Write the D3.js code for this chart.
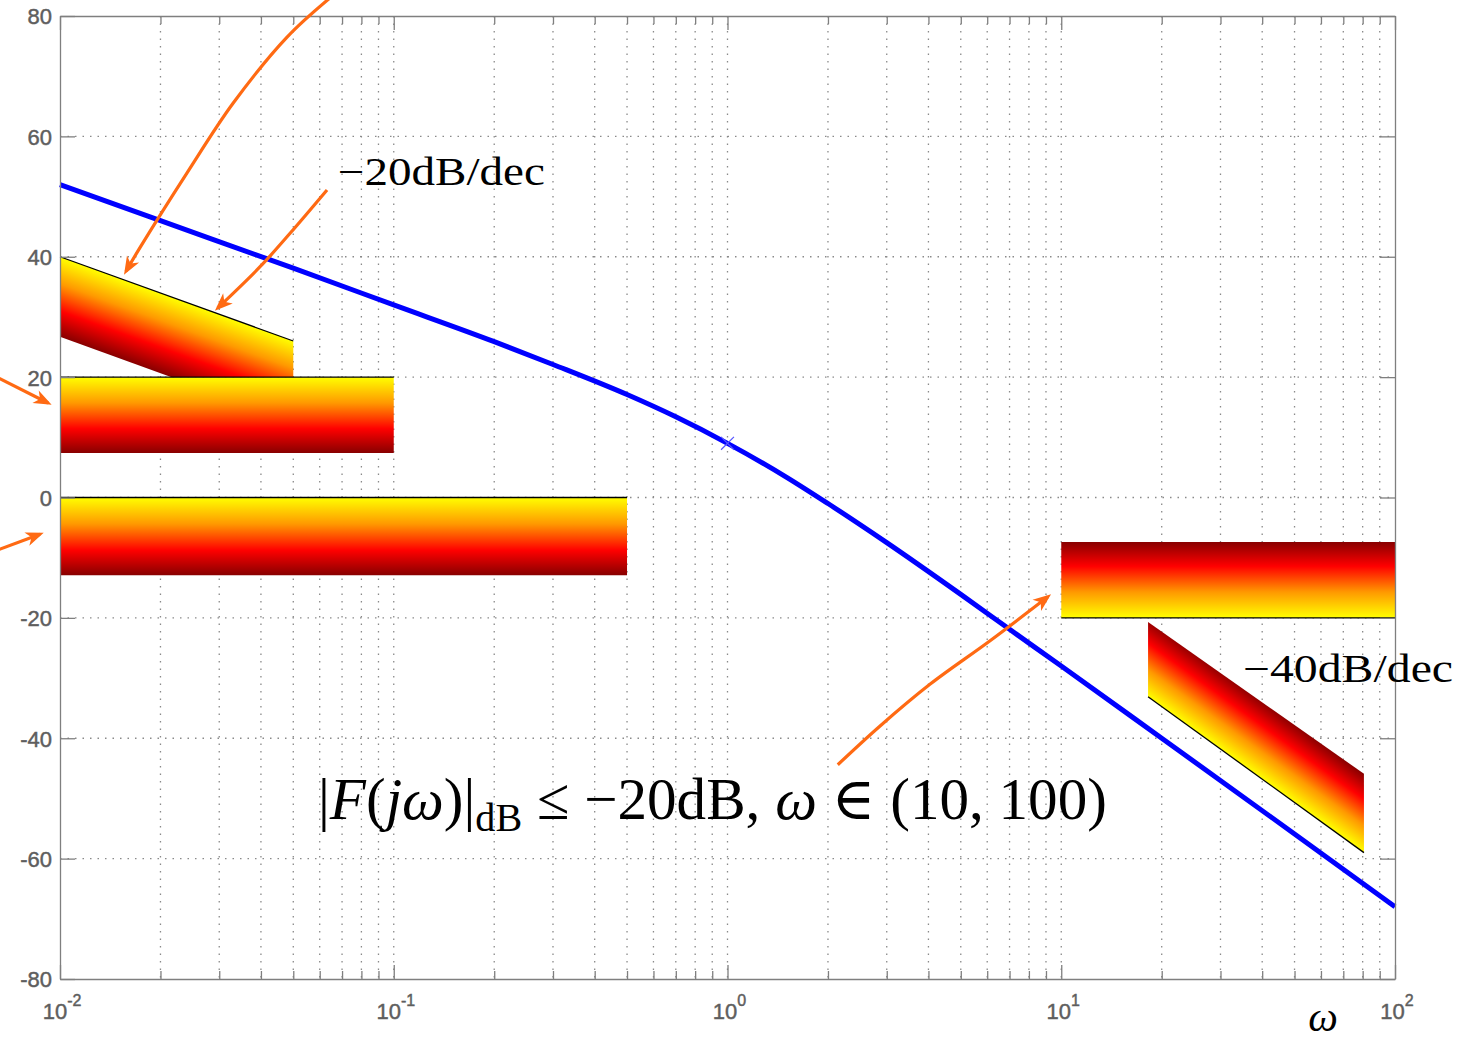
<!DOCTYPE html>
<html>
<head>
<meta charset="utf-8">
<script src="https://cdn.jsdelivr.net/npm/d3@7"></script>
<style>
    body { margin: 0; background: #ffffff; }
    .axis text { font-family: "Liberation Sans", Arial, sans-serif; fill: #5e5e5e; stroke: #5e5e5e; stroke-width: 0.45; }
    .axis path, .axis line { stroke: #7f7f7f; }
    .tex { font-family: "Liberation Serif", "DejaVu Serif", serif; fill: #000000; }
</style>
</head>
<body>
<div class="content-padded"></div>
<script>
// magnitude |F(jw)| in dB
let omega = [0.01, 0.02, 0.05, 0.1, 0.2, 0.3, 0.5, 0.7, 1, 1.5, 2, 3, 5, 7, 10, 20, 50, 100];
let magDb = [52.0, 46.0, 38.1, 32.0, 25.9, 22.1, 17.1, 13.4, 9.0, 3.4, -1.0, -7.5, -16.1, -21.9, -28.0, -40.0, -55.9, -68.0];

// axis ticks
let xTicks = [0.01, 0.1, 1, 10, 100];
let xTickExp = ["-2", "-1", "0", "1", "2"];
let yTicks = [-80, -60, -40, -20, 0, 20, 40, 60, 80];

// shaded constraint regions [omega, dB]; first two points = the black edge (yellow side)
let bandLow20 = [[0.01, 40], [0.05, 26.0], [0.05, 20], [0.0216, 20], [0.01, 26.7]];
let rectLow1 = [[0.01, 20], [0.1, 20], [0.1, 7.4], [0.01, 7.4]];
let rectLow2 = [[0.01, 0], [0.5, 0], [0.5, -12.9], [0.01, -12.9]];
let rectHigh = [[10, -20], [100, -20], [100, -7.4], [10, -7.4]];
let bandHigh40 = [[18.2, -33.1], [80.7, -59.0], [80.7, -45.9], [18.2, -20.7]];

// annotation arrows [omega, dB], tail -> tip
let arrowA = [[0.0644, 83.0], [0.0479, 76.5], [0.0330, 65.5], [0.0240, 53.9], [0.0174, 41.6], [0.01577, 37.6]];
let arrowB = [[0.0631, 51.1], [0.0489, 43.9], [0.0397, 38.3], [0.0297, 31.5]];
let arrowC = [[0.00652, 19.9], [0.00921, 15.7]];
let arrowD = [[0.00652, -8.7], [0.00871, -6.1]];
let arrowE = [[2.14, -44.4], [2.86, -38.0], [4.05, -31.0], [6.12, -23.8], [9.12, -16.5]];

// label anchors [omega, dB]
let label20At = [0.068, 51.9];
let label40At = [35.05, -30.65];
let formulaAt = [0.0593, -53.4];


function BodeView() {
    this.width = 1462;
    this.height = 1041;
    this.left = 60;
    this.right = 1395;
    this.top = 16;
    this.bottom = 979;

    this.setup();
    this.drawGrid();
    this.drawRegions();
    this.drawCurve();
    this.drawAxes();
    this.drawArrows();
    this.drawLabels();
}

BodeView.prototype.setup = function () {
    this.svg = d3.select(".content-padded")
        .append("svg")
        .attr("width", this.width)
        .attr("height", this.height);

    this.x = d3.scaleLog()
        .domain([0.01, 100])
        .range([this.left, this.right]);

    this.y = d3.scaleLinear()
        .domain([-80, 80])
        .range([this.bottom, this.top]);

    let defs = this.svg.append("defs");
    this.defs = defs;

    defs.append("marker")
        .attr("id", "head")
        .attr("markerUnits", "userSpaceOnUse")
        .attr("viewBox", "-15 -8 21 16")
        .attr("markerWidth", 21)
        .attr("markerHeight", 16)
        .attr("refX", 0)
        .attr("refY", 0)
        .attr("orient", "auto")
        .append("path")
        .attr("d", "M4,0 L-14,-7 L-9,0 L-14,7 Z")
        .attr("fill", "#ff6a13");
}

BodeView.prototype.drawGrid = function () {
    let x = this.x, y = this.y;
    let grid = this.svg.append("g").attr("class", "grid");

    grid.selectAll(".gx")
        .data(x.ticks().filter(d => d > 0.01 && d < 100))
        .enter().append("line")
        .attr("x1", d => x(d)).attr("x2", d => x(d))
        .attr("y1", this.top).attr("y2", this.bottom)
        .attr("stroke", "#8a8a8a")
        .attr("stroke-width", 1.3)
        .attr("stroke-dasharray", "1.5,6");

    grid.selectAll(".gy")
        .data(yTicks.filter(d => d > -80 && d < 80))
        .enter().append("line")
        .attr("x1", this.left).attr("x2", this.right)
        .attr("y1", d => y(d)).attr("y2", d => y(d))
        .attr("stroke", "#8a8a8a")
        .attr("stroke-width", 1.3)
        .attr("stroke-dasharray", "1.5,6");
}

BodeView.prototype.drawRegions = function () {
    let currObj = this;
    let x = this.x, y = this.y;
    let regions = [bandLow20, rectLow1, rectLow2, rectHigh, bandHigh40];
    let line = d3.line().x(d => x(d[0])).y(d => y(d[1]));

    regions.forEach(function (poly, i) {
        let pts = poly.map(d => [x(d[0]), y(d[1])]);
        let p0 = pts[0], p1 = pts[1];
        let len = Math.hypot(p1[0] - p0[0], p1[1] - p0[1]);
        let nx = -(p1[1] - p0[1]) / len;
        let ny = (p1[0] - p0[0]) / len;
        // farthest vertex from the edge sets the gradient length
        let far = 0;
        pts.forEach(function (p) {
            let s = (p[0] - p0[0]) * nx + (p[1] - p0[1]) * ny;
            if (Math.abs(s) > Math.abs(far)) far = s;
        });

        let grad = currObj.defs.append("linearGradient")
            .attr("id", "ramp" + i)
            .attr("gradientUnits", "userSpaceOnUse")
            .attr("x1", p0[0]).attr("y1", p0[1])
            .attr("x2", p0[0] + nx * far).attr("y2", p0[1] + ny * far);
        grad.append("stop").attr("offset", 0).attr("stop-color", "#ffff00");
        grad.append("stop").attr("offset", 0.34).attr("stop-color", "#ff9900");
        grad.append("stop").attr("offset", 0.68).attr("stop-color", "#ff0000");
        grad.append("stop").attr("offset", 1).attr("stop-color", "#880000");

        currObj.svg.append("path")
            .attr("d", line(poly) + "Z")
            .attr("fill", "url(#ramp" + i + ")");

        currObj.svg.append("path")
            .attr("d", line(poly.slice(0, 2)))
            .attr("fill", "none")
            .attr("stroke", "#000000")
            .attr("stroke-width", 1.3);
    });
}

BodeView.prototype.drawCurve = function () {
    let x = this.x, y = this.y;
    let pts = omega.map((w, i) => [w, magDb[i]]);

    let line = d3.line()
        .x(d => x(d[0]))
        .y(d => y(d[1]))
        .curve(d3.curveMonotoneX);

    this.svg.append("path")
        .datum(pts)
        .attr("d", line)
        .attr("fill", "none")
        .attr("stroke", "#0000ff")
        .attr("stroke-width", 5);

    // small cross marker at w = 1
    this.svg.append("path")
        .attr("d", d3.symbol(d3.symbolX, 110)())
        .attr("transform", "translate(" + x(1) + "," + y(magDb[omega.indexOf(1)]) + ")")
        .attr("fill", "none")
        .attr("stroke", "#5555ff")
        .attr("stroke-width", 1.2);
}

BodeView.prototype.drawAxes = function () {
    let x = this.x, y = this.y;
    let minor = x.ticks().filter(d => xTicks.indexOf(d) < 0);

    /* bottom, major + minor */
    let xAxis = d3.axisBottom(x)
        .tickValues(xTicks)
        .tickSize(-14)
        .tickSizeOuter(0)
        .tickFormat("");
    this.svg.append("g")
        .attr("class", "axis")
        .attr("transform", "translate(0," + this.bottom + ")")
        .call(xAxis);
    this.svg.append("g")
        .attr("class", "axis")
        .attr("transform", "translate(0," + this.bottom + ")")
        .call(d3.axisBottom(x).tickValues(minor).tickSize(-8).tickSizeOuter(0).tickFormat(""))
        .select(".domain").remove();

    /* top, ticks only */
    this.svg.append("g")
        .attr("class", "axis")
        .attr("transform", "translate(0," + this.top + ")")
        .call(d3.axisTop(x).tickValues(xTicks).tickSize(-14).tickSizeOuter(0).tickFormat(""));
    this.svg.append("g")
        .attr("class", "axis")
        .attr("transform", "translate(0," + this.top + ")")
        .call(d3.axisTop(x).tickValues(minor).tickSize(-8).tickSizeOuter(0).tickFormat(""))
        .select(".domain").remove();

    /* left, plain hyphen minus like the original */
    this.svg.append("g")
        .attr("class", "axis")
        .attr("transform", "translate(" + this.left + ",0)")
        .call(d3.axisLeft(y).tickValues(yTicks).tickSize(-15).tickSizeOuter(0).tickPadding(8)
            .tickFormat(d => String(d)))
        .selectAll("text")
        .attr("font-size", 22)
        .attr("dy", "0.36em");

    /* right */
    this.svg.append("g")
        .attr("class", "axis")
        .attr("transform", "translate(" + this.right + ",0)")
        .call(d3.axisRight(y).tickValues(yTicks).tickSize(-15).tickSizeOuter(0).tickFormat(""));

    this.svg.selectAll(".axis path, .axis line").attr("stroke-width", 1.3);

    // 10^k labels
    let lbl = this.svg.append("g").attr("class", "axis");
    xTicks.forEach(function (t, i) {
        let txt = lbl.append("text")
            .attr("x", x(t) + 2)
            .attr("y", 1019)
            .attr("text-anchor", "middle")
            .attr("font-size", 22);
        txt.append("tspan").text("10");
        txt.append("tspan")
            .attr("dy", -13)
            .attr("font-size", 16)
            .text(xTickExp[i]);
    });

    this.svg.append("text")
        .attr("class", "tex")
        .attr("x", this.right - 72)
        .attr("y", 1031)
        .attr("text-anchor", "middle")
        .attr("font-size", 42)
        .attr("font-style", "italic")
        .text("ω");
}

BodeView.prototype.drawArrows = function () {
    let x = this.x, y = this.y;
    let line = d3.line()
        .x(d => x(d[0]))
        .y(d => y(d[1]))
        .curve(d3.curveCatmullRom);

    this.svg.selectAll(".arrow")
        .data([arrowA, arrowB, arrowC, arrowD, arrowE])
        .enter().append("path")
        .attr("class", "arrow")
        .attr("d", line)
        .attr("fill", "none")
        .attr("stroke", "#ff6a13")
        .attr("stroke-width", 3.2)
        .attr("marker-end", "url(#head)");
}

BodeView.prototype.drawLabels = function () {
    let x = this.x, y = this.y;

    this.svg.append("text")
        .attr("class", "tex")
        .attr("x", x(label20At[0]))
        .attr("y", y(label20At[1]))
        .attr("font-size", 40)
        .attr("textLength", 207)
        .attr("lengthAdjust", "spacingAndGlyphs")
        .text("\u221220dB/dec");

    this.svg.append("text")
        .attr("class", "tex")
        .attr("x", x(label40At[0]))
        .attr("y", y(label40At[1]))
        .attr("font-size", 40)
        .attr("textLength", 210)
        .attr("lengthAdjust", "spacingAndGlyphs")
        .text("\u221240dB/dec");

    let f = this.svg.append("text")
        .attr("class", "tex")
        .attr("x", x(formulaAt[0]))
        .attr("y", y(formulaAt[1]))
        .attr("font-size", 56);
    f.append("tspan").text("|");
    f.append("tspan").attr("font-style", "italic").text("F");
    f.append("tspan").text("(");
    f.append("tspan").attr("font-style", "italic").text("jω");
    f.append("tspan").text(")|");
    f.append("tspan").attr("font-size", 38).attr("dy", 12).text("dB");
    f.append("tspan").attr("dy", -12).text(" \u2264 \u221220dB, ");
    f.append("tspan").attr("font-style", "italic").text("ω");
    f.append("tspan").text(" \u2208 (10, 100)");

    // stretch to the width of the original label
    let w = f.node().getBBox().width;
    f.attr("font-size", 56 * 789 / w);
    f.selectAll("tspan").filter(function () { return this.getAttribute("font-size") == 38; })
        .attr("font-size", 38 * 789 / w);
}

new BodeView();
</script>
</body>
</html>
